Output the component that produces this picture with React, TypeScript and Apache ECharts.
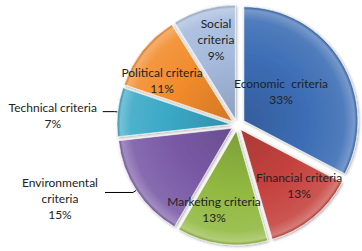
import React, { useEffect, useRef } from "react";
import * as echarts from "echarts";

const categories = [
  "Economic  criteria",
  "Financial criteria",
  "Marketing criteria",
  "Environmental\ncriteria",
  "Technical criteria",
  "Political criteria",
  "Social\ncriteria",
];
const values = [33, 13, 13, 15, 7, 11, 9];
const colors = ["#3c6db5", "#c5423e", "#92b941", "#7a5aa6", "#3aa8c6", "#f28b2b", "#a5badd"];

// layout settings (not data)
const explodeMain = 8; // first slice pulled out further
const explodeRest = 6;
// label placement: [radius fraction, angle shift in degrees]
const insideLabelPos: Record<number, [number, number]> = {
  0: [0.485, -6.1],
  1: [0.76, -6.5],
  2: [0.768, 8.1],
  5: [0.765, -7.6],
  6: [0.776, 2.3],
};
const outsideLabelCfg: Record<number, { length: number; length2: number; padTop: number; width: number }> = {
  3: { length: 4, length2: 28, padTop: 13, width: 80 },
  4: { length: 3, length2: 12, padTop: 8, width: 90 },
};

const FONT = "Lato";

function shade(hex: string, f: number): string {
  const n = parseInt(hex.slice(1), 16);
  let r = (n >> 16) & 255, g = (n >> 8) & 255, b = n & 255;
  if (f >= 0) {
    r = r + (255 - r) * f; g = g + (255 - g) * f; b = b + (255 - b) * f;
  } else {
    r = r * (1 + f); g = g * (1 + f); b = b * (1 + f);
  }
  return `rgb(${Math.round(r)},${Math.round(g)},${Math.round(b)})`;
}

export default function App() {
  const ref = useRef<HTMLDivElement>(null);
  useEffect(() => {
    const chart = echarts.init(ref.current!, null, { renderer: "svg" });
    const cx = 237, cy = 125, R = 114;
    const total = values.reduce((a, b) => a + b, 0);
    const mids: number[] = [];
    let acc = 0;
    values.forEach((v) => {
      mids.push(((acc + v / 2) / total) * 360);
      acc += v;
    });
    const fill = (c: string) =>
      new echarts.graphic.RadialGradient(cx, cy, R, [
        { offset: 0, color: shade(c, -0.14) },
        { offset: 0.55, color: c },
        { offset: 0.88, color: shade(c, 0.1) },
        { offset: 0.97, color: shade(c, 0.3) },
        { offset: 1, color: shade(c, -0.15) },
      ], true);
    const hidden = {
      itemStyle: { color: "rgba(0,0,0,0)", borderWidth: 0, shadowBlur: 0, shadowColor: "rgba(0,0,0,0)" },
      label: { show: false },
      labelLine: { show: false },
      selected: false,
    };
    const makeData = (visible: (i: number) => boolean) =>
      categories.map((name, i) => {
        if (!visible(i)) return { name, value: values[i], ...hidden };
        const oc = outsideLabelCfg[i];
        return {
          name,
          value: values[i],
          selected: true,
          itemStyle: { color: fill(colors[i]) },
          label: oc
            ? {
                show: true,
                position: "outside",
                padding: [oc.padTop, 0, 0, 0],
                formatter: (p: any) =>
                  String(p.name).split("\n").map((s: string) => `{a|${s}}`).join("\n") + `\n{a|${p.value}%}`,
                rich: { a: { width: oc.width, align: "center", fontFamily: FONT, fontSize: 12, lineHeight: 16, color: "#222" } },
              }
            : { show: false },
          labelLine: oc
            ? { show: true, length: oc.length, length2: oc.length2, lineStyle: { color: "#000", width: 1 } }
            : { show: false },
        };
      });
    const baseSeries = {
      type: "pie",
      center: [cx, cy],
      radius: [0, R],
      startAngle: 90,
      clockwise: true,
      selectedMode: "multiple",
      avoidLabelOverlap: false,
      silent: true,
      itemStyle: {
        borderColor: "rgba(255,255,255,0.6)",
        borderWidth: 1,
        shadowColor: "rgba(0,0,0,0.35)",
        shadowBlur: 3,
        shadowOffsetX: 1,
        shadowOffsetY: 1,
      },
      label: { color: "#222", fontFamily: FONT, fontSize: 12, lineHeight: 16 },
      emphasis: { disabled: true },
    };
    const insideTexts = Object.keys(insideLabelPos).map((k) => {
      const i = Number(k);
      const lp = insideLabelPos[i];
      const a = ((mids[i] + lp[1]) * Math.PI) / 180;
      return {
        type: "text",
        silent: true,
        z: 100,
        x: cx + lp[0] * R * Math.sin(a),
        y: cy - lp[0] * R * Math.cos(a),
        style: {
          text: `${categories[i]}\n${values[i]}%`,
          align: "center",
          verticalAlign: "middle",
          fontFamily: FONT,
          fontSize: 12,
          lineHeight: 16,
          fill: "#222",
        },
      };
    });
    chart.setOption({
      animation: false,
      backgroundColor: "#ffffff",
      series: [
        { ...baseSeries, selectedOffset: explodeMain, data: makeData((i) => i === 0) },
        { ...baseSeries, selectedOffset: explodeRest, data: makeData((i) => i !== 0) },
      ],
      graphic: insideTexts,
    });
    return () => chart.dispose();
  }, []);
  return (
    <div
      ref={ref}
      style={{ position: "fixed", left: 0, top: 0, width: 362, height: 251 }}
    />
  );
}
